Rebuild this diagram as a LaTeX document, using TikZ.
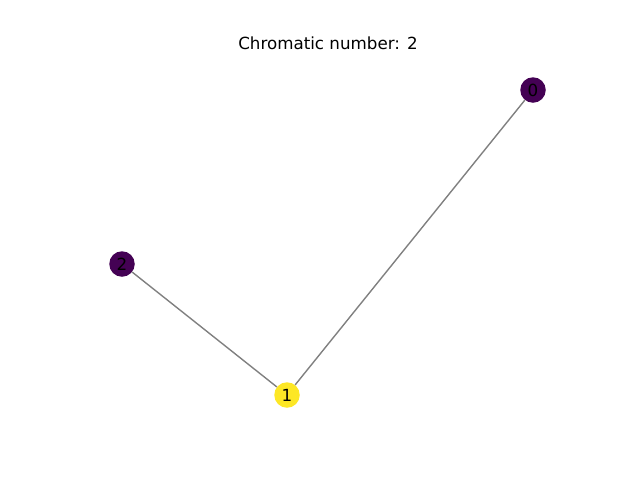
\documentclass[tikz,border=0pt]{standalone}
\usepackage{fontspec}
\setmainfont{DejaVu Sans}
\usepackage{tikz}
\definecolor{vdpurple}{HTML}{440154}
\definecolor{vdyellow}{HTML}{FDE725}
\definecolor{edgegray}{RGB}{128,128,128}

\tikzset{
    vertex/.style={circle, draw=none, minimum size=25.5pt, inner sep=0pt, font=\fontsize{16.7}{18}\selectfont},
    edge/.style={draw=edgegray, line width=1.4pt}
}

\begin{document}
\begin{tikzpicture}[x=1pt, y=-1pt]
    \useasboundingbox (0,0) rectangle (640,480);

    \node[anchor=center, font=\fontsize{16.7}{18}\selectfont] (title) at (328,43) {Chromatic number: 2};

    \node[vertex, fill=vdpurple] (v0) at (533,90) {0};
    \node[vertex, fill=vdyellow] (v1) at (287,395) {1};
    \node[vertex, fill=vdpurple] (v2) at (122,264) {2};

    \draw[edge] (v1) -- (v0);
    \draw[edge] (v1) -- (v2);
\end{tikzpicture}
\end{document}
